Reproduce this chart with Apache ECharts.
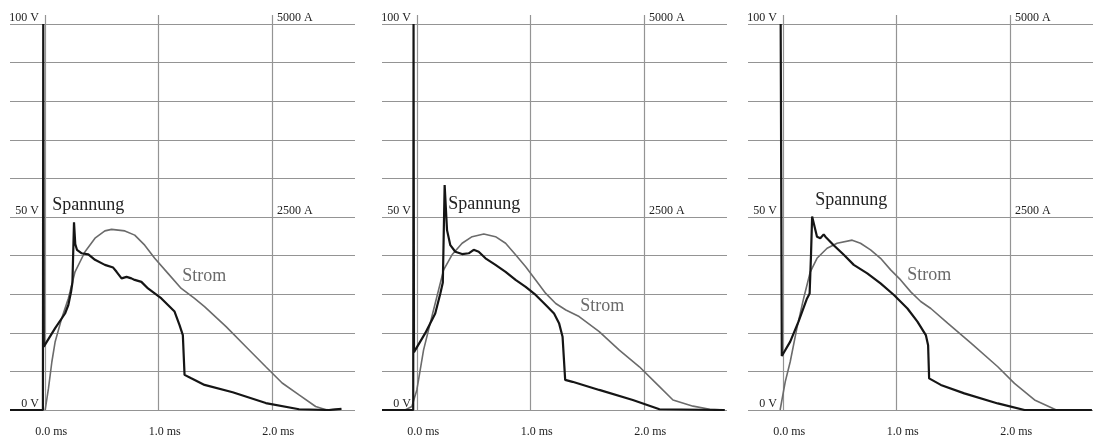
<!DOCTYPE html>
<html>
<head>
<meta charset="utf-8">
<script src="https://cdn.jsdelivr.net/npm/echarts@6/dist/echarts.min.js"></script>
<style>
html, body { margin: 0; padding: 0; background: #fff; }
#chart { width: 1095px; height: 436px; }
</style>
</head>
<body>
<div id="chart"></div>
<script>
// time in ms, voltage in V, current in A
const volt1 = [[-0.31, 0], [-0.02, 0], [-0.017, 100], [-0.012, 16.4], [0.088, 21.2], [0.175, 25], [0.204, 27.2],
  [0.228, 30.6], [0.24, 33], [0.254, 48.6], [0.265, 43], [0.28, 41.5], [0.322, 40.6], [0.38, 40.3], [0.439, 38.9],
  [0.526, 37.6], [0.599, 36.9], [0.629, 35.8], [0.673, 34.1], [0.717, 34.5], [0.76, 34.1], [0.789, 33.7],
  [0.848, 33.2], [0.906, 31.5], [0.965, 30.2], [1.024, 28.9], [1.082, 27.2], [1.14, 25.5], [1.184, 22],
  [1.213, 19.4], [1.228, 9.1], [1.287, 8.2], [1.404, 6.5], [1.652, 4.6], [1.944, 1.8], [2.237, 0.2], [2.5, 0], [2.61, 0.3]];
const amp1 = [[0, 0], [0.029, 280], [0.059, 625], [0.088, 885], [0.146, 1190], [0.204, 1445], [0.263, 1790],
  [0.351, 2050], [0.439, 2225], [0.526, 2320], [0.585, 2340], [0.702, 2320], [0.789, 2265], [0.877, 2135],
  [0.965, 1965], [1.082, 1770], [1.199, 1575], [1.316, 1445], [1.404, 1340], [1.594, 1080], [1.769, 820],
  [1.944, 560], [2.088, 350], [2.237, 195], [2.383, 45], [2.482, 0], [2.61, 15]];

const volt2 = [[-0.31, 0], [-0.035, 0], [-0.032, 100], [-0.028, 15], [0.071, 19.9], [0.159, 25], [0.204, 30.2],
  [0.226, 33], [0.242, 58.3], [0.263, 46.6], [0.292, 42.7], [0.336, 41], [0.396, 40.4], [0.454, 40.6],
  [0.498, 41.5], [0.542, 41], [0.602, 39.3], [0.69, 37.6], [0.779, 35.8], [0.867, 33.7], [0.956, 31.9],
  [1.044, 29.8], [1.133, 27.2], [1.206, 25], [1.25, 22.5], [1.281, 19], [1.304, 7.8], [1.369, 7.3],
  [1.604, 5.2], [1.9, 2.6], [2.135, 0.2], [2.71, 0]];
const amp2 = [[-0.31, 0], [-0.106, 0], [-0.047, 45], [-0.003, 260], [0.012, 390], [0.056, 775], [0.115, 1125],
  [0.174, 1470], [0.233, 1815], [0.307, 2010], [0.396, 2160], [0.484, 2245], [0.587, 2280], [0.69, 2245],
  [0.779, 2160], [0.867, 2010], [0.956, 1855], [1.044, 1685], [1.133, 1510], [1.221, 1380], [1.31, 1295],
  [1.427, 1210], [1.604, 1015], [1.781, 775], [1.958, 560], [2.106, 345], [2.254, 130], [2.431, 50],
  [2.578, 10], [2.71, 0]];

const volt3 = [[-0.022, 100], [-0.012, 14], [0.062, 17.7], [0.135, 22.9], [0.21, 28.9], [0.233, 30.2],
  [0.245, 40], [0.255, 50.1], [0.298, 44.9], [0.327, 44.5], [0.357, 45.5], [0.372, 44.9], [0.445, 42.7],
  [0.534, 40.2], [0.622, 37.6], [0.741, 35.4], [0.858, 32.8], [0.976, 29.8], [1.095, 26.3], [1.183, 22.9],
  [1.257, 19.4], [1.277, 16.8], [1.286, 8.2], [1.389, 6.5], [1.596, 4.3], [1.891, 1.7], [2.127, 0],
  [2.407, 0], [2.72, 0]];
const amp3 = [[-0.027, 0], [0.018, 365], [0.062, 625], [0.121, 1060], [0.18, 1445], [0.239, 1790], [0.298, 1965],
  [0.387, 2095], [0.475, 2160], [0.608, 2200], [0.681, 2160], [0.77, 2075], [0.858, 1965], [0.947, 1815],
  [1.035, 1685], [1.124, 1530], [1.212, 1405], [1.301, 1315], [1.449, 1125], [1.655, 865], [1.891, 560],
  [2.038, 345], [2.215, 130], [2.407, 0], [2.72, 0]];

const timeTicks = [0, 1, 2];
const voltGridTicks = [0, 10, 20, 30, 40, 50, 60, 70, 80, 90, 100];
const voltLabels = [0, 50, 100];
const ampLabels = [2500, 5000];

// where the curve names sit: [ms, V] and [ms, A]
const spannungAt = [[0.062, 53.1], [0.273, 53.4], [0.282, 54.4]];
const stromAt = [[1.207, 1730], [1.436, 1340], [1.093, 1750]];

const FONT = 'Liberation Serif';
const T_MIN = -0.31, T_MAX = 2.73;
const V_MAX = 102.33; // headroom so the time lines poke above 100 V
const gridLine = { color: '#949494', width: 1.2 };
const panelLeft = [10, 382, 748];
const panels = [[volt1, amp1], [volt2, amp2], [volt3, amp3]];

const grid = [], xAxis = [], yAxis = [], series = [];
panels.forEach(([volt, amp], i) => {
  grid.push({ left: panelLeft[i], top: 15, width: 345, height: 395, outerBoundsMode: 'none' });
  xAxis.push({
    type: 'value', gridIndex: i, min: T_MIN, max: T_MAX,
    axisLine: { show: false },
    axisTick: { show: false, customValues: timeTicks },
    axisLabel: {
      customValues: timeTicks, formatter: v => v.toFixed(1) + ' ms',
      fontFamily: FONT, fontSize: 12, color: '#222', margin: 16, padding: [0, 0, 0, 12]
    },
    splitLine: { show: true, lineStyle: gridLine }
  });
  yAxis.push({
    type: 'value', gridIndex: i, position: 'left', offset: -31, min: 0, max: V_MAX,
    axisLine: { show: false },
    axisTick: { show: false, customValues: voltGridTicks },
    axisLabel: {
      customValues: voltLabels, formatter: v => v + ' V', align: 'right', verticalAlign: 'bottom',
      margin: 2, fontFamily: FONT, fontSize: 12, color: '#222'
    },
    splitLine: { show: true, lineStyle: gridLine }
  });
  yAxis.push({
    type: 'value', gridIndex: i, position: 'right', offset: -80, min: 0, max: V_MAX * 50,
    axisLine: { show: false },
    axisTick: { show: false },
    axisLabel: {
      customValues: ampLabels, formatter: v => v + ' A', align: 'left', verticalAlign: 'bottom',
      margin: 2, fontFamily: FONT, fontSize: 12, color: '#222'
    },
    splitLine: { show: false }
  });
  series.push({
    name: 'Strom', type: 'line', xAxisIndex: i, yAxisIndex: 2 * i + 1, data: amp,
    showSymbol: false, z: 2, lineStyle: { color: '#6b6b6b', width: 1.6 },
    markPoint: {
      symbol: 'rect', symbolSize: 1, itemStyle: { color: 'rgba(0,0,0,0)' }, silent: true,
      label: { show: true, position: 'inside', align: 'left', verticalAlign: 'middle', formatter: 'Strom',
        fontFamily: FONT, fontSize: 18, color: '#6a6a6a' },
      data: [{ coord: stromAt[i] }]
    }
  });
  series.push({
    name: 'Spannung', type: 'line', xAxisIndex: i, yAxisIndex: 2 * i, data: volt,
    showSymbol: false, z: 3, lineStyle: { color: '#151515', width: 2.2 },
    markPoint: {
      symbol: 'rect', symbolSize: 1, itemStyle: { color: 'rgba(0,0,0,0)' }, silent: true,
      label: { show: true, position: 'inside', align: 'left', verticalAlign: 'middle', formatter: 'Spannung',
        fontFamily: FONT, fontSize: 18, color: '#222' },
      data: [{ coord: spannungAt[i] }]
    }
  });
});

const chart = echarts.init(document.getElementById('chart'));
chart.setOption({
  animation: false,
  backgroundColor: '#fff',
  grid, xAxis, yAxis, series
});
</script>
</body>
</html>
